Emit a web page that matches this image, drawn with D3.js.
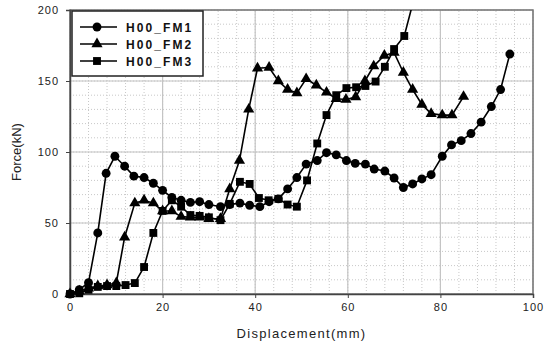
<!DOCTYPE html>
<html>
<head>
<meta charset="utf-8">
<script src="https://cdn.jsdelivr.net/npm/d3@7"></script>
<style>
  body { margin: 0; background: #fff; }
  svg { font-family: Arial, "Liberation Sans", sans-serif; }
</style>
</head>
<body>
<div id="chart"></div>
<script>
// values
var seriesNames = ["H00_FM1", "H00_FM2", "H00_FM3"];

var fm1X = [0, 2, 4, 6, 7.8, 9.7, 11.8, 13.8, 16, 18, 20, 22, 24, 26, 28, 30, 32.5, 34.5, 36.7, 38.8, 41, 43, 45, 47, 49, 51, 53.4, 55.4, 57.5, 59.7, 61.6, 63.8, 65.7, 68, 70, 72, 74, 76, 78, 80.4, 82.4, 84.5, 86.6, 88.8, 91, 93, 95];
var fm1Y = [0, 3, 8, 43, 85, 97, 90, 83, 82, 78, 73, 68, 66, 64.5, 65, 63, 61.5, 63, 64, 62.5, 61.5, 65, 67, 74, 82, 91.5, 94, 99.5, 98, 94, 92, 91.5, 88, 86.6, 81.7, 75, 77.5, 81, 84, 97, 105, 108, 113, 121, 132, 144, 169];

var fm2X = [0, 2, 4, 6, 8, 10, 11.8, 14, 16, 18, 20, 22, 24, 26, 28, 30, 32.5, 34.5, 36.6, 38.6, 40.5, 43, 45, 47, 49, 51, 53.2, 55.4, 57.5, 59.6, 61.7, 63.7, 65.6, 67.9, 70, 72, 74, 76, 78, 80.4, 82.5, 85];
var fm2Y = [0, 2, 4, 5.6, 6.3, 7.8, 40, 64, 66, 64, 58.5, 58.5, 54.5, 54, 54, 53, 53, 74, 94, 130, 159, 159.5, 150, 144, 141.5, 151.5, 147, 142, 137.5, 137, 138.7, 150, 160.5, 168, 170, 156, 144, 133.5, 127, 126, 126, 139];

var fm3X = [0, 2, 4, 6, 8, 10, 12, 14, 16, 18, 20, 22, 24, 26, 28, 30, 32.5, 34.5, 36.7, 38.8, 40.8, 42.9, 45, 47, 49, 51.2, 53.4, 55.4, 57.5, 59.7, 61.8, 63.8, 66, 68, 70, 72.2, 74.3];
var fm3Y = [0, 0.5, 3, 5, 5.6, 5.6, 6.3, 7.7, 19, 43, 58.5, 66, 61.5, 55.6, 55, 54, 52, 63.5, 79, 77.5, 67.6, 66, 67, 63, 61.5, 80, 106, 126, 140, 145, 145.6, 146.5, 149.6, 160, 172.5, 181.7, 208];

var xTicks = [0, 20, 40, 60, 80, 100];
var yTicks = [0, 50, 100, 150, 200];
var xMinor = d3.range(0, 101, 4);
var yMinor = d3.range(0, 201, 10);

var width = 555, height = 345;
var margin = {left: 70, right: 22, top: 10, bottom: 51};

var svg = d3.select("#chart").append("svg")
    .attr("width", width).attr("height", height);

var x = d3.scaleLinear().domain([0, 100]).range([margin.left, width - margin.right]);
var y = d3.scaleLinear().domain([0, 200]).range([height - margin.bottom, margin.top]);

// minor dotted grid
svg.append("g").selectAll("line").data(xMinor).enter().append("line")
    .attr("x1", d => x(d)).attr("x2", d => x(d))
    .attr("y1", y(0)).attr("y2", y(200))
    .attr("stroke", "#c8c8c8").attr("stroke-dasharray", "1,2");
svg.append("g").selectAll("line").data(yMinor).enter().append("line")
    .attr("x1", x(0)).attr("x2", x(100))
    .attr("y1", d => y(d)).attr("y2", d => y(d))
    .attr("stroke", "#c8c8c8").attr("stroke-dasharray", "1,2");

// major grid
svg.append("g").selectAll("line").data(xTicks).enter().append("line")
    .attr("x1", d => x(d)).attr("x2", d => x(d))
    .attr("y1", y(0)).attr("y2", y(200))
    .attr("stroke", "#c4c4c4").attr("stroke-width", 1.2);
svg.append("g").selectAll("line").data(yTicks).enter().append("line")
    .attr("x1", x(0)).attr("x2", x(100))
    .attr("y1", d => y(d)).attr("y2", d => y(d))
    .attr("stroke", "#c4c4c4").attr("stroke-width", 1.2);

// frame
svg.append("rect")
    .attr("x", x(0)).attr("y", y(200))
    .attr("width", x(100) - x(0)).attr("height", y(0) - y(200))
    .attr("fill", "none").attr("stroke", "#777").attr("stroke-width", 1.5);

// axes
var xAxis = svg.append("g")
    .attr("transform", "translate(0," + y(0) + ")")
    .call(d3.axisBottom(x).tickValues(xTicks).tickSize(4).tickPadding(5));
var yAxis = svg.append("g")
    .attr("transform", "translate(" + x(0) + ",0)")
    .call(d3.axisLeft(y).tickValues(yTicks).tickSize(4).tickPadding(7));
[xAxis, yAxis].forEach(function(a) {
    a.select(".domain").attr("stroke", "#444").attr("stroke-width", 1.5);
    a.selectAll(".tick line").attr("stroke", "#444");
    a.selectAll("text").attr("font-size", 11).attr("letter-spacing", "1px")
        .attr("fill", "#222").attr("font-family", "Arial, 'Liberation Sans', sans-serif");
});

// axis titles
svg.append("text")
    .attr("x", (x(0) + x(100)) / 2).attr("y", 338)
    .attr("text-anchor", "middle").attr("font-size", 13).attr("letter-spacing", "1.3px")
    .attr("fill", "#222")
    .text("Displacement(mm)");
svg.append("text")
    .attr("transform", "translate(21," + 152 + ") rotate(-90)")
    .attr("text-anchor", "middle").attr("font-size", 13)
    .attr("fill", "#222")
    .text("Force(kN)");

// clip for data
svg.append("clipPath").attr("id", "plotClip").append("rect")
    .attr("x", x(0) - 6).attr("y", y(200))
    .attr("width", x(100) - x(0) + 12).attr("height", y(0) - y(200) + 6);

function pairs(xs, ys) { return xs.map((v, i) => [v, ys[i]]); }
var seriesData = [pairs(fm1X, fm1Y), pairs(fm2X, fm2Y), pairs(fm3X, fm3Y)];
var symbols = [
    d3.symbol().type(d3.symbolCircle).size(62),
    d3.symbol().type(d3.symbolTriangle).size(54),
    d3.symbol().type(d3.symbolSquare).size(62)
];

var line = d3.line().x(d => x(d[0])).y(d => y(d[1]));
var plot = svg.append("g").attr("clip-path", "url(#plotClip)");

seriesData.forEach(function(data, i) {
    var g = plot.append("g");
    g.append("path").datum(data)
        .attr("d", line).attr("fill", "none")
        .attr("stroke", "#000").attr("stroke-width", 1.6);
    g.selectAll("path.pt").data(data).enter().append("path")
        .attr("class", "pt")
        .attr("transform", d => "translate(" + x(d[0]) + "," + y(d[1]) + ")")
        .attr("d", symbols[i]).attr("fill", "#000");
});

// legend
var legend = svg.append("g");
legend.append("rect")
    .attr("x", 72).attr("y", 11).attr("width", 131).attr("height", 65)
    .attr("fill", "#fff").attr("stroke", "#222").attr("stroke-width", 1.5);
seriesNames.forEach(function(name, i) {
    var ly = 27 + i * 17;
    legend.append("line")
        .attr("x1", 80).attr("x2", 117).attr("y1", ly).attr("y2", ly)
        .attr("stroke", "#000").attr("stroke-width", 1.6);
    legend.append("path")
        .attr("transform", "translate(97," + ly + ")")
        .attr("d", symbols[i]).attr("fill", "#000");
    legend.append("text")
        .attr("x", 126).attr("y", ly + 4.5)
        .attr("font-size", 12).attr("font-weight", "bold").attr("letter-spacing", "2.1px")
        .attr("fill", "#111")
        .text(name);
});
</script>
</body>
</html>
